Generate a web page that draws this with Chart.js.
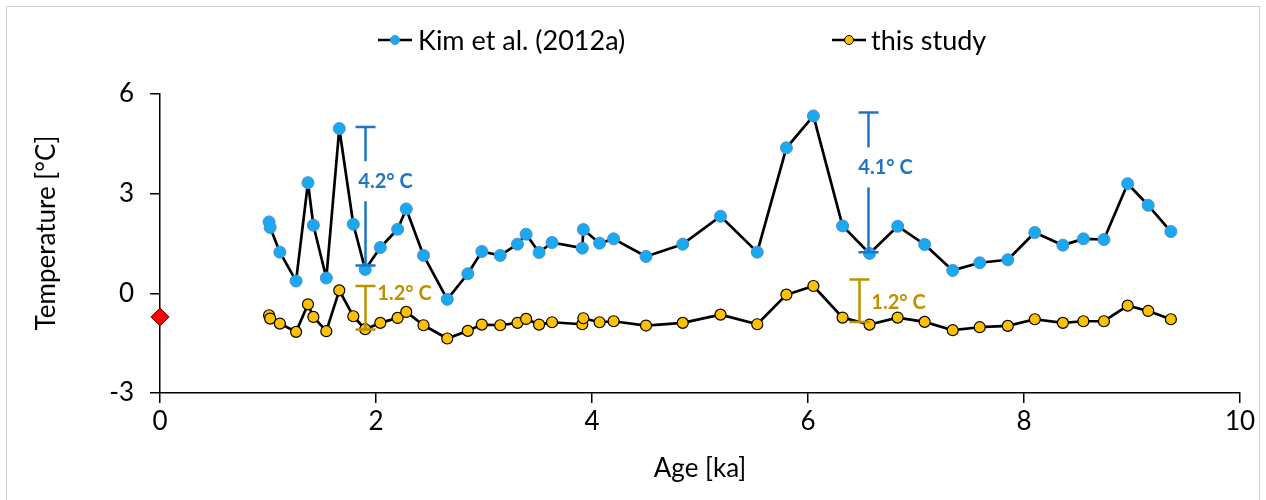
<!DOCTYPE html>
<html><head><meta charset="utf-8">
<script src="https://cdn.jsdelivr.net/npm/chart.js@4.4.0/dist/chart.umd.min.js"></script>
<style>html,body{margin:0;padding:0;background:#fff;}#wrap{width:1266px;height:500px;position:relative;}</style>
</head><body><div id="wrap"><canvas id="c" width="1266" height="500" style="width:1266px;height:500px;"></canvas></div>
<script>
// ---- data ----
const sampleAge = [1.01,1.02,1.11,1.26,1.37,1.42,1.54,1.66,1.79,1.90,2.04,2.20,2.28,2.44,2.66,2.85,2.98,3.15,3.31,3.39,3.51,3.63,3.91,3.92,4.07,4.20,4.50,4.84,5.19,5.53,5.80,6.05,6.32,6.57,6.83,7.08,7.34,7.59,7.85,8.10,8.36,8.55,8.74,8.96,9.15,9.36];
const kimTemp = [2.15,1.98,1.24,0.37,3.33,2.05,0.46,4.96,2.08,0.72,1.38,1.93,2.54,1.14,-0.18,0.59,1.26,1.14,1.48,1.78,1.23,1.53,1.36,1.92,1.51,1.64,1.11,1.48,2.32,1.24,4.38,5.34,2.03,1.20,2.02,1.47,0.69,0.92,1.01,1.83,1.45,1.64,1.62,3.30,2.65,1.86];
const studyTemp = [-0.66,-0.76,-0.91,-1.16,-0.33,-0.71,-1.14,0.09,-0.69,-1.08,-0.89,-0.74,-0.56,-0.96,-1.36,-1.13,-0.94,-0.96,-0.89,-0.77,-0.94,-0.87,-0.93,-0.75,-0.87,-0.84,-0.97,-0.89,-0.64,-0.93,-0.04,0.22,-0.73,-0.94,-0.73,-0.86,-1.11,-1.02,-0.98,-0.78,-0.89,-0.84,-0.84,-0.37,-0.53,-0.78];
const modernAge = [0];
const modernTemp = [-0.71];
const seriesNames = ['Kim et al. (2012a)','this study'];
const xTickValues = [0,2,4,6,8,10];
const yTickValues = [-3,0,3,6];
const rangeAge = [1.90, 6.56, 1.90, 6.47];
const rangeTop = [5.01, 5.44, 0.22, 0.42];
const rangeBottom = [0.84, 1.24, -1.09, -0.86];
const rangeLabels = ['4.2° C','4.1° C','1.2° C','1.2° C'];
const yTitle = 'Temperature [°C]';
const xTitle = 'Age [ka]';

// ---- styles ----
const FONT = 'Lato, "Open Sans", sans-serif';
const BLUE_FILL = '#1AA8EE', BLUE_EDGE = '#4B8FD8';
const GOLD_FILL = '#FFC000';
const ANN_BLUE = '#1F74C4', ANN_GOLD = '#BF9000';
const annStyle = [
  {color: ANN_BLUE, dx: 20, dy: -15, box: true},
  {color: ANN_BLUE, dx: 17, dy: -15, box: true},
  {color: ANN_GOLD, dx: 39, dy: -14, box: false},
  {color: ANN_GOLD, dx: 39, dy: 2, box: false}
];

const toXY = (xs, ys) => xs.map((x, i) => ({x, y: ys[i]}));

const frame = {
  id: 'frame',
  beforeDraw(chart) {
    const c = chart.ctx;
    c.save();
    c.fillStyle = '#fff';
    c.fillRect(0, 0, chart.width, chart.height);
    c.strokeStyle = '#cfcfcf';
    c.lineWidth = 1;
    c.strokeRect(6.5, 6.5, 1253, 520);
    c.restore();
  },
  afterDraw(chart) {
    const c = chart.ctx;
    c.save();
    c.fillStyle = '#000';
    c.font = '26px ' + FONT;
    c.textAlign = 'center'; c.textBaseline = 'middle';
    c.translate(47, 233);
    c.rotate(-Math.PI / 2);
    c.fillText(yTitle, 0, 0);
    c.restore();
  }
};

const ranges = {
  id: 'ranges',
  afterDatasetsDraw(chart) {
    const c = chart.ctx, xs = chart.scales.x, ys = chart.scales.y;
    c.save();
    rangeAge.forEach((a, i) => {
      const st = annStyle[i];
      const px = Math.round(xs.getPixelForValue(a)) + 0.5;
      const pt = ys.getPixelForValue(rangeTop[i]);
      const pb = ys.getPixelForValue(rangeBottom[i]);
      c.strokeStyle = st.color;
      c.lineWidth = 2.5;
      c.beginPath();
      c.moveTo(px, pt); c.lineTo(px, pb);
      c.moveTo(px - 10, pt); c.lineTo(px + 10, pt);
      c.moveTo(px - 10, pb); c.lineTo(px + 10, pb);
      c.stroke();
      const tx = px + st.dx, ty = (pt + pb) / 2 + st.dy;
      c.font = 'bold 20px ' + FONT;
      const w = c.measureText(rangeLabels[i]).width;
      if (st.box) {
        c.fillStyle = '#fff';
        c.fillRect(tx - w / 2 - 2, ty - 20, w + 4, 40);
      }
      c.fillStyle = st.color;
      c.textAlign = 'center';
      c.textBaseline = 'middle';
      c.fillText(rangeLabels[i], tx, ty);
    });
    c.restore();
  }
};

const legendPlugin = {
  id: 'customLegend',
  afterDraw(chart) {
    const c = chart.ctx;
    const items = [
      {cx: 395, tx: 418, ds: chart.data.datasets[0]},
      {cx: 849, tx: 871, ds: chart.data.datasets[1]}
    ];
    c.save();
    items.forEach((it, i) => {
      const y = 40;
      c.strokeStyle = '#000';
      c.lineWidth = 2.5;
      c.beginPath(); c.moveTo(it.cx - 17, y); c.lineTo(it.cx + 17, y); c.stroke();
      c.beginPath(); c.arc(it.cx, y, 4.5, 0, Math.PI * 2);
      c.fillStyle = it.ds.pointBackgroundColor; c.fill();
      c.lineWidth = 1; c.strokeStyle = it.ds.pointBorderColor; c.stroke();
      c.fillStyle = '#000';
      c.font = '27px ' + FONT;
      c.textAlign = 'left'; c.textBaseline = 'middle';
      c.fillText(seriesNames[i], it.tx, y + 1);
    });
    c.restore();
  }
};

new Chart(document.getElementById('c'), {
  type: 'scatter',
  data: {
    datasets: [
      {label: seriesNames[0], data: toXY(sampleAge, kimTemp), showLine: true,
       borderColor: '#000', borderWidth: 2.7, borderJoinStyle: 'round', pointBackgroundColor: BLUE_FILL,
       pointBorderColor: BLUE_EDGE, pointBorderWidth: 1, pointRadius: 6, pointHoverRadius: 6},
      {label: seriesNames[1], data: toXY(sampleAge, studyTemp), showLine: true,
       borderColor: '#000', borderWidth: 2.7, borderJoinStyle: 'round', pointBackgroundColor: GOLD_FILL,
       pointBorderColor: '#000', pointBorderWidth: 1.2, pointRadius: 5.5, pointHoverRadius: 5.5},
      {label: 'modern', data: toXY(modernAge, modernTemp), showLine: false, clip: false,
       pointStyle: 'rectRot', pointRadius: 9, pointHoverRadius: 9,
       pointBackgroundColor: '#FF0000', pointBorderColor: '#5a0000', pointBorderWidth: 1}
    ]
  },
  options: {
    responsive: false,
    maintainAspectRatio: false,
    animation: false,
    devicePixelRatio: 1,
    layout: {padding: {top: 94, right: 26, left: 0, bottom: 0}},
    plugins: {legend: {display: false}, tooltip: {enabled: false}},
    scales: {
      x: {
        type: 'linear', min: 0, max: 10,
        afterFit(s) { s.height = 107; },
        afterBuildTicks(s) { s.ticks = xTickValues.map(v => ({value: v})); },
        grid: {drawOnChartArea: false, drawTicks: true, tickLength: 10, color: '#000', lineWidth: 1.5},
        border: {display: true, color: '#000', width: 1.5},
        ticks: {color: '#000', font: {family: FONT, size: 26}, padding: 3},
        title: {display: true, text: xTitle, color: '#000', font: {family: FONT, size: 26}, padding: {bottom: 16}}
      },
      y: {
        type: 'linear', min: -3, max: 6,
        afterFit(s) { s.width = 160; },
        afterBuildTicks(s) { s.ticks = yTickValues.map(v => ({value: v})); },
        grid: {drawOnChartArea: false, drawTicks: true, tickLength: 10, color: '#000', lineWidth: 1.5},
        border: {display: true, color: '#000', width: 1.5},
        ticks: {color: '#000', font: {family: FONT, size: 26}, padding: 16},
        title: {display: false}
      }
    }
  },
  plugins: [frame, ranges, legendPlugin]
});
</script></body></html>
